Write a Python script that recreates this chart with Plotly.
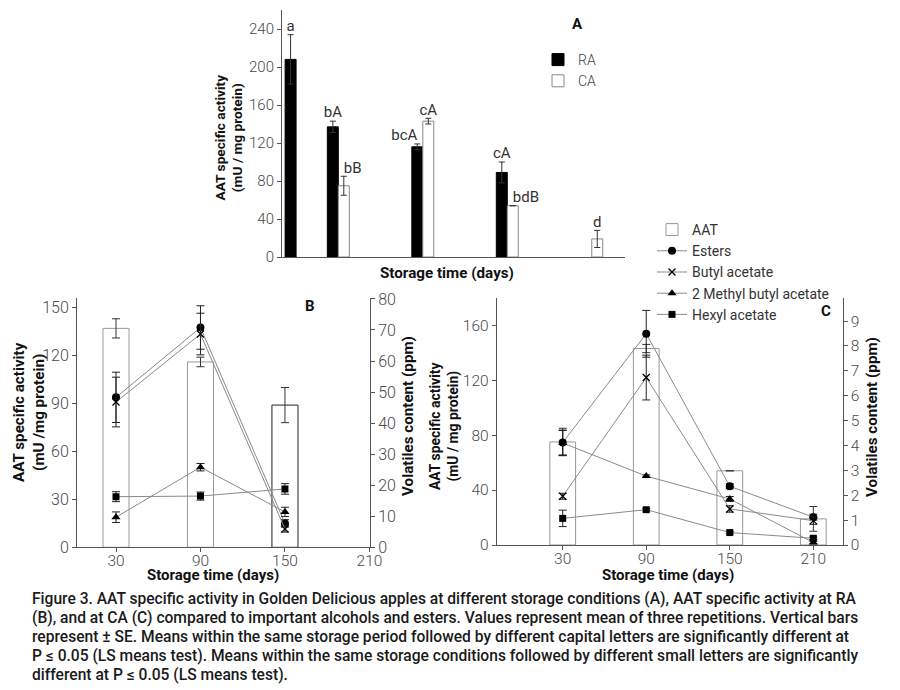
import plotly.graph_objects as go

# ---------------- data ----------------
days_A = [0, 30, 90, 150, 210]
ra_aat = [208, 137, 116, 89, None]
ra_err = [26, 6, 3, 11, None]
ca_aat = [None, 75, 143, 54, 19]
ca_err = [None, 10, 3, 0, 9]
ra_letters = ["a", "bA", "bcA", "cA", ""]
ca_letters = ["", "bB", "cA", "bdB", "d"]

days_B = [30, 90, 150]
aat_B = [137, 116, 89]
aat_B_err = [6, 3, 11]
esters_B = [48.3, 70.8, 7.7]
esters_B_err = [8.1, 7.0, 1.2]
butyl_B = [46.8, 68.7, 5.9]
butyl_B_err = [8.0, 6.7, 1.0]
mba_B = [9.7, 25.8, 11.4]
mba_B_err = [1.7, 1.2, 1.5]
hexyl_B = [16.3, 16.5, 18.8]
hexyl_B_err = [1.6, 1.3, 1.7]

days_C = [30, 90, 150, 210]
aat_C = [75, 143, 54, 19]
aat_C_err = [10, 3, 0, 9]
esters_C = [4.12, 8.49, 2.36, 1.12]
esters_C_err = [0.5, 0.94, 0.1, 0.12]
butyl_C = [1.96, 6.73, 1.45, 0.98]
butyl_C_err = [0.12, 0.9, 0.13, 0.15]
mba_C = [4.1, 2.77, 1.85, 0.1]
mba_C_err = [0.5, 0.05, 0.1, 0.05]
hexyl_C = [1.07, 1.42, 0.5, 0.27]
hexyl_C_err = [0.33, 0.05, 0.05, 0.05]

ticks_A_y = [0, 40, 80, 120, 160, 200, 240]
ticks_B_y = [0, 30, 60, 90, 120, 150]
ticks_B_y2 = [0, 10, 20, 30, 40, 50, 60, 70, 80]
ticks_C_y = [0, 40, 80, 120, 160]
ticks_C_y2 = [0, 1, 2, 3, 4, 5, 6, 7, 8, 9]
ticks_x = [30, 90, 150, 210]

caption_lines = [
    "Figure 3. AAT specific activity in Golden Delicious apples at different storage conditions (A), AAT specific activity at RA",
    "(B), and at CA (C) compared to important alcohols and esters. Values represent mean of three repetitions. Vertical bars",
    "represent ± SE. Means within the same storage period followed by different capital letters are significantly different at",
    "P ≤ 0.05 (LS means test). Means within the same storage conditions followed by different small letters are significantly",
    "different at P ≤ 0.05 (LS means test).",
]

# ---------------- style ----------------
FONT = "Roboto"
TICKC = "#4a4a4a"
AXC = "#555555"
LINEC = "#8a8a8a"
BW_A = 7.8
BW = 18.5
W, H = 900, 690

fig = go.Figure()

# ----- panel A -----
fig.add_trace(go.Bar(x=days_A, y=ra_aat, width=BW_A, offset=-BW_A, name="RA",
                     marker=dict(color="black", line=dict(color="black", width=1)),
                     error_y=dict(type="data", array=ra_err, color="#333", thickness=1, width=3),
                     xaxis="x", yaxis="y", legend="legend"))
fig.add_trace(go.Bar(x=days_A, y=ca_aat, width=BW_A, offset=0, name="CA",
                     marker=dict(color="white", line=dict(color="#888", width=1)),
                     error_y=dict(type="data", array=ca_err, color="#333", thickness=1, width=3),
                     xaxis="x", yaxis="y", legend="legend"))
fig.add_trace(go.Scatter(x=[d - BW_A / 2 for d in days_A],
                         y=[(v or 0) + (e or 0) for v, e in zip(ra_aat, ra_err)],
                         mode="text", text=ra_letters,
                         textposition=["top center", "top center", "top left", "top center", "top center"],
                         textfont=dict(family=FONT, size=15, color="#333"),
                         showlegend=False, hoverinfo="skip", xaxis="x", yaxis="y"))
fig.add_trace(go.Scatter(x=[d + BW_A / 2 for d in days_A],
                         y=[(v or 0) + (e or 0) for v, e in zip(ca_aat, ca_err)],
                         mode="text", text=ca_letters,
                         textposition=["top center", "top right", "top center", "top right", "top center"],
                         textfont=dict(family=FONT, size=15, color="#333"),
                         showlegend=False, hoverinfo="skip", xaxis="x", yaxis="y"))

# ----- panel B -----
fig.add_trace(go.Bar(x=days_B, y=aat_B, width=BW, name="AAT",
                     marker=dict(color="rgba(0,0,0,0)", line=dict(color=["#999", "#999", "#222"], width=1)),
                     error_y=dict(type="data", array=aat_B_err, color="#333", thickness=1, width=4),
                     showlegend=False, xaxis="x2", yaxis="y2"))

series_style = [
    ("Esters", "circle", 8, 0),
    ("Butyl acetate", "x-thin", 7, 1.3),
    ("2 Methyl butyl acetate", "triangle-up", 8, 0),
    ("Hexyl acetate", "square", 7, 0),
]
B_vals = [(esters_B, esters_B_err), (butyl_B, butyl_B_err), (mba_B, mba_B_err), (hexyl_B, hexyl_B_err)]
C_vals = [(esters_C, esters_C_err), (butyl_C, butyl_C_err), (mba_C, mba_C_err), (hexyl_C, hexyl_C_err)]

for (name, sym, sz, lw), (v, e) in zip(series_style, B_vals):
    fig.add_trace(go.Scatter(x=days_B, y=v, mode="lines+markers", name=name,
                             line=dict(color=LINEC, width=1),
                             marker=dict(symbol=sym, size=sz, color="black", line=dict(color="black", width=lw)),
                             error_y=dict(type="data", array=e, color="#222", thickness=1, width=4),
                             showlegend=False, xaxis="x2", yaxis="y3"))

# ----- panel C -----
fig.add_trace(go.Bar(x=days_C, y=aat_C, width=BW, name="AAT",
                     marker=dict(color="rgba(0,0,0,0)", line=dict(color="#999", width=1)),
                     error_y=dict(type="data", array=aat_C_err, color="#333", thickness=1, width=4),
                     xaxis="x3", yaxis="y4", legend="legend2"))
for (name, sym, sz, lw), (v, e) in zip(series_style, C_vals):
    fig.add_trace(go.Scatter(x=days_C, y=v, mode="lines+markers", name=name,
                             line=dict(color=LINEC, width=1),
                             marker=dict(symbol=sym, size=sz, color="black", line=dict(color="black", width=lw)),
                             error_y=dict(type="data", array=e, color="#222", thickness=1, width=4),
                             xaxis="x3", yaxis="y5", legend="legend2"))

tickfont = dict(family=FONT, size=16, color=TICKC, weight=300)
tickfont_c = dict(family=FONT, size=15.5, color=TICKC, weight=300)


def ax(**kw):
    d = dict(showline=True, linecolor=AXC, linewidth=1, ticks="outside", ticklen=4, tickcolor=AXC,
             showgrid=False, zeroline=False, tickfont=tickfont, automargin=False)
    d.update(kw)
    return d


fig.update_layout(
    width=W, height=H,
    margin=dict(l=0, r=0, t=0, b=0),
    paper_bgcolor="white", plot_bgcolor="rgba(0,0,0,0)",
    font=dict(family=FONT, color="#333"),
    barmode="overlay",
    showlegend=True,
    xaxis=ax(domain=[282 / W, 625 / W], range=[-10, 233.6], showticklabels=False, ticks="", anchor="y"),
    yaxis=ax(domain=[1 - 257 / H, 1 - 10 / H], range=[0, 260], tickvals=ticks_A_y, anchor="x",
             tickfont=dict(family=FONT, size=15, color=TICKC, weight=300)),
    xaxis2=ax(domain=[77 / W, 370 / W], range=[2.3, 210.4], tickvals=ticks_x, anchor="y2",
              ticklabelstandoff=-5, tickfont=tickfont_c),
    yaxis2=ax(domain=[1 - 547.3 / H, 1 - 297.7 / H], range=[0, 156.2], tickvals=ticks_B_y, anchor="x2"),
    yaxis3=ax(overlaying="y2", side="right", anchor="x2", range=[0, 80.4], tickvals=ticks_B_y2),
    xaxis3=ax(domain=[496.7 / W, 842.7 / W], range=[-17.4, 231.1], tickvals=ticks_x, anchor="y4",
              tickfont=tickfont_c, ticklabelstandoff=-5),
    yaxis4=ax(domain=[1 - 545 / H, 1 - 297.7 / H], range=[0, 180], tickvals=ticks_C_y, anchor="x3",
              tickfont=tickfont_c),
    yaxis5=ax(overlaying="y4", side="right", anchor="x3", range=[0, 9.94], tickvals=ticks_C_y2,
              tickfont=tickfont_c),
    legend=dict(x=538 / W, y=1 - 44 / H, xanchor="left", yanchor="top", bgcolor="rgba(0,0,0,0)",
                font=dict(family=FONT, size=14, color="#444", weight=300), traceorder="normal",
                itemwidth=30),
    legend2=dict(x=652 / W, y=1 - 214 / H, xanchor="left", yanchor="top", bgcolor="rgba(0,0,0,0)",
                 font=dict(family=FONT, size=14, color="#333"), traceorder="normal",
                 itemwidth=30, tracegroupgap=0),
)

# panel letters
for txt, px, py in [("A", 577, 24), ("B", 310, 306), ("C", 826, 311)]:
    fig.add_annotation(xref="paper", yref="paper", x=px / W, y=1 - py / H, showarrow=False,
                       xanchor="center", yanchor="middle", text=f"<b>{txt}</b>",
                       font=dict(family=FONT, size=15, color="#111"))

# axis titles (as text)
titles = [
    ("AAT specific activity<br>(mU / mg protein)", 228.5, 138, -90, 13.7),
    ("Storage time (days)", 447, 273, 0, 15.2),
    ("AAT specific activity<br>(mU /mg protein)", 29, 412, -90, 15.2),
    ("Volatiles content (ppm)", 408, 416, -90, 15.2),
    ("Storage time (days)", 213, 575, 0, 15),
    ("AAT specific activity<br>(mU / mg protein)", 444, 426, -90, 13.9),
    ("Volatiles content (ppm)", 872, 417, -90, 15.2),
    ("Storage time (days)", 668, 575, 0, 15),
]
for txt, px, py, ang, fs in titles:
    fig.add_annotation(xref="paper", yref="paper", x=px / W, y=1 - py / H, showarrow=False,
                       xanchor="center", yanchor="middle", textangle=ang, text=txt,
                       font=dict(family=FONT, size=fs, color="#111", weight="bold"))

# caption, one line per annotation
cap_y = [599, 618, 637, 656, 675]
for line, py in zip(caption_lines, cap_y):
    fig.add_annotation(xref="paper", yref="paper", x=30 / W, y=1 - py / H, xanchor="left", yanchor="middle",
                       align="left", showarrow=False, text=line,
                       font=dict(family=FONT, size=15.6, color="#1a1a1a", weight=500))

fig.write_html("out.html", config={"displayModeBar": False},
               post_script="document.body.style.margin='0';document.body.style.padding='0';")
